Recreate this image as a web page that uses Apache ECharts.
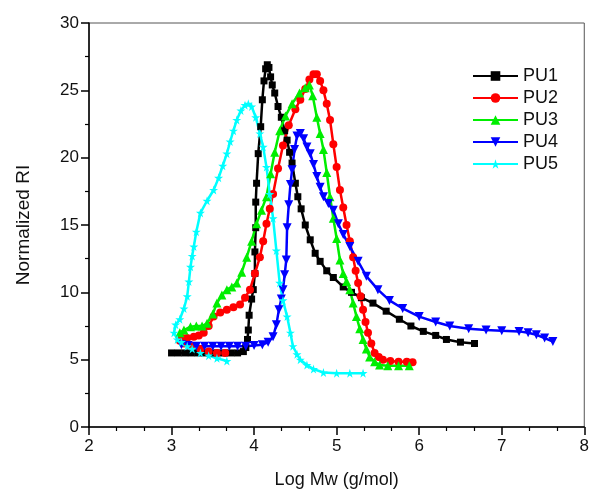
<!DOCTYPE html>
<html>
<head>
<meta charset="utf-8">
<script src="https://cdn.jsdelivr.net/npm/echarts@6/dist/echarts.min.js"></script>
<style>
html,body{margin:0;padding:0;background:#fff;}
#chart{width:592px;height:494px;}
</style>
</head>
<body>
<div id="chart"></div>
<script>
// ---- Data (Log Mw, Normalized RI) ----
var seriesNames = ['PU1', 'PU2', 'PU3', 'PU4', 'PU5'];
var xTitle = 'Log Mw (g/mol)';
var yTitle = 'Normalized RI';

var pu1 = [[3.00,5.5],[3.08,5.5],[3.16,5.5],[3.24,5.5],[3.32,5.5],[3.40,5.5],[3.48,5.5],[3.56,5.5],[3.64,5.5],[3.72,5.5],[3.80,5.5],[3.87,5.6],
  [3.90,5.9],[3.92,6.5],[3.93,7.2],[3.94,8.3],[3.97,9.5],[3.99,10.2],[4.01,11.4],[4.01,13.0],[4.02,14.8],[4.02,16.7],[4.03,18.1],[4.05,20.3],
  [4.08,22.3],[4.10,24.3],[4.12,25.7],[4.14,26.6],[4.16,26.9],[4.18,26.7],[4.20,26.0],[4.22,25.4],[4.25,24.8],[4.29,23.8],[4.33,23.0],
  [4.37,22.0],[4.40,21.3],[4.43,20.4],[4.46,19.6],[4.50,18.1],[4.53,17.1],[4.57,16.2],[4.62,15.0],[4.68,13.9],[4.74,12.9],[4.80,12.3],
  [4.88,11.6],[4.96,11.1],[5.08,10.4],[5.18,10.0],[5.30,9.6],[5.44,9.2],[5.60,8.6],[5.76,8.0],[5.90,7.5],[6.05,7.1],[6.20,6.8],[6.33,6.5],
  [6.50,6.3],[6.67,6.2]];

var pu2 = [[3.65,5.5],[3.55,5.5],[3.45,5.6],[3.35,5.8],[3.25,6.0],[3.15,6.2],[3.10,6.4],[3.13,6.6],[3.19,6.6],[3.27,6.7],[3.33,6.8],[3.39,7.0],
  [3.45,7.5],[3.51,8.2],[3.59,8.5],[3.67,8.7],[3.75,8.9],[3.83,9.1],[3.89,9.6],[3.95,10.2],[4.01,11.4],[4.07,12.6],[4.11,13.8],[4.15,15.1],
  [4.19,16.2],[4.23,17.3],[4.29,19.2],[4.35,20.9],[4.42,22.4],[4.50,23.6],[4.56,24.3],[4.62,25.1],[4.67,25.8],[4.72,26.2],[4.76,26.2],
  [4.80,25.7],[4.84,25.0],[4.88,24.0],[4.92,22.8],[4.96,21.0],[5.00,19.3],[5.04,17.6],[5.08,16.3],[5.12,15.0],[5.16,13.8],[5.20,12.6],
  [5.23,11.6],[5.26,10.7],[5.29,9.7],[5.32,8.7],[5.35,7.8],[5.38,7.0],[5.42,6.2],[5.46,5.5],[5.51,5.2],[5.56,5.0],[5.65,4.9],[5.75,4.85],
  [5.85,4.85],[5.92,4.8]];

var pu3 = [[3.10,7.0],[3.15,7.2],[3.23,7.45],[3.30,7.5],[3.37,7.5],[3.43,7.7],[3.50,8.4],[3.55,9.2],[3.61,9.8],[3.67,10.2],[3.73,10.4],
  [3.79,10.7],[3.85,11.5],[3.91,12.6],[3.97,13.8],[4.03,15.1],[4.09,16.1],[4.15,17.1],[4.20,18.8],[4.25,20.4],[4.31,22.0],[4.38,23.1],
  [4.46,24.0],[4.55,24.8],[4.62,25.2],[4.67,25.4],[4.71,24.6],[4.76,23.0],[4.80,21.8],[4.84,20.6],[4.88,18.9],[4.92,17.1],[4.96,15.5],
  [5.00,14.0],[5.04,12.4],[5.08,11.4],[5.12,10.8],[5.16,10.2],[5.20,9.2],[5.24,8.2],[5.28,7.3],[5.32,6.5],[5.36,5.8],[5.40,5.2],
  [5.46,4.85],[5.52,4.6],[5.62,4.55],[5.75,4.55],[5.88,4.55]];

var pu4 = [[3.12,6.1],[3.20,6.05],[3.30,6.0],[3.40,6.0],[3.50,6.0],[3.60,6.0],[3.70,6.0],[3.80,6.0],[3.90,6.0],[4.00,6.05],[4.10,6.1],
  [4.17,6.3],[4.23,6.7],[4.27,7.6],[4.30,8.7],[4.33,9.5],[4.35,10.2],[4.37,11.3],[4.39,12.4],[4.40,14.8],[4.42,16.5],[4.44,18.0],
  [4.46,19.1],[4.49,20.6],[4.52,21.6],[4.56,21.8],[4.60,21.4],[4.64,20.8],[4.68,20.3],[4.72,19.5],[4.76,18.6],[4.80,17.8],[4.84,17.1],
  [4.90,16.6],[4.96,16.1],[5.02,15.1],[5.08,14.3],[5.16,13.4],[5.26,12.3],[5.36,11.2],[5.50,10.2],[5.64,9.4],[5.80,8.8],[6.00,8.2],
  [6.20,7.8],[6.37,7.5],[6.60,7.3],[6.81,7.2],[7.00,7.15],[7.21,7.1],[7.32,7.0],[7.42,6.85],[7.52,6.6],[7.62,6.35]];

var pu5 = [[3.67,4.9],[3.55,5.1],[3.45,5.3],[3.35,5.5],[3.25,5.8],[3.19,6.0],[3.12,6.3],[3.07,6.5],[3.03,7.0],[3.05,7.6],[3.10,8.0],
  [3.15,8.8],[3.19,9.7],[3.21,10.8],[3.23,11.9],[3.25,12.7],[3.27,13.4],[3.30,14.5],[3.35,15.9],[3.43,16.8],[3.51,17.6],[3.57,18.5],
  [3.62,19.4],[3.67,20.3],[3.71,21.2],[3.75,22.0],[3.79,22.8],[3.84,23.5],[3.89,23.9],[3.93,24.0],[3.97,23.8],[4.02,23.0],[4.07,21.8],
  [4.11,20.8],[4.15,19.3],[4.19,17.3],[4.23,15.5],[4.27,13.1],[4.31,10.7],[4.35,9.4],[4.40,8.2],[4.44,7.0],[4.47,6.0],[4.52,5.4],
  [4.56,5.0],[4.64,4.6],[4.72,4.3],[4.84,4.05],[5.00,4.0],[5.16,4.0],[5.32,4.0]];

var seriesData = [pu1, pu2, pu3, pu4, pu5];
var colors = ['#000000', '#ff0000', '#00ee00', '#0000ff', '#00ffff'];
var starPath = 'path://M50,0 L61,35 L98,35 L68,57 L79,91 L50,70 L21,91 L32,57 L2,35 L39,35 Z';
var symbols = ['rect', 'circle', 'triangle', 'triangle', starPath];
var symbolRotates = [0, 0, 0, 180, 0];
var symbolSizes = [7, 8, 9, 9, 9];

var FONT = '"Liberation Sans", Arial, sans-serif';

var chart = echarts.init(document.getElementById('chart'), null, {renderer: 'canvas'});

var series = seriesData.map(function (d, i) {
  return {
    name: seriesNames[i],
    type: 'line',
    data: d,
    symbol: symbols[i],
    symbolRotate: symbolRotates[i],
    symbolSize: symbolSizes[i],
    showAllSymbol: true,
    smooth: false,
    lineStyle: {color: colors[i], width: 2.5},
    itemStyle: {color: colors[i]},
    animation: false
  };
});

chart.setOption({
  backgroundColor: '#ffffff',
  animation: false,
  grid: {left: 89, right: 7, top: 23, bottom: 66, show: true, borderColor: '#555', borderWidth: 1, backgroundColor: 'transparent'},
  legend: {
    orient: 'vertical',
    left: 467,
    top: 62,
    itemWidth: 45,
    itemHeight: 12,
    itemGap: 4,
    data: seriesNames,
    textStyle: {fontFamily: FONT, fontSize: 18, color: '#111'}
  },
  xAxis: {
    type: 'value',
    min: 2, max: 8, interval: 1,
    name: xTitle,
    nameLocation: 'middle',
    nameGap: 44,
    nameTextStyle: {fontFamily: FONT, fontSize: 18, color: '#111'},
    axisLine: {show: true, onZero: false, lineStyle: {color: '#000', width: 1.5}},
    axisTick: {show: true, inside: false, length: 8, lineStyle: {color: '#000', width: 1.5}},
    minorTick: {show: true, splitNumber: 3, length: 4, lineStyle: {color: '#000', width: 1.2}},
    axisLabel: {fontFamily: FONT, fontSize: 17, color: '#111', margin: 11},
    splitLine: {show: false}
  },
  yAxis: {
    type: 'value',
    min: 0, max: 30, interval: 5,
    name: yTitle,
    nameLocation: 'middle',
    nameGap: 56,
    nameTextStyle: {fontFamily: FONT, fontSize: 19, color: '#111'},
    axisLine: {show: true, onZero: false, lineStyle: {color: '#000', width: 1.5}},
    axisTick: {show: true, inside: false, length: 8, lineStyle: {color: '#000', width: 1.5}},
    minorTick: {show: true, splitNumber: 2, length: 4, lineStyle: {color: '#000', width: 1.2}},
    axisLabel: {fontFamily: FONT, fontSize: 17, color: '#111', margin: 10},
    splitLine: {show: false}
  },
  series: series
});
</script>
</body>
</html>
